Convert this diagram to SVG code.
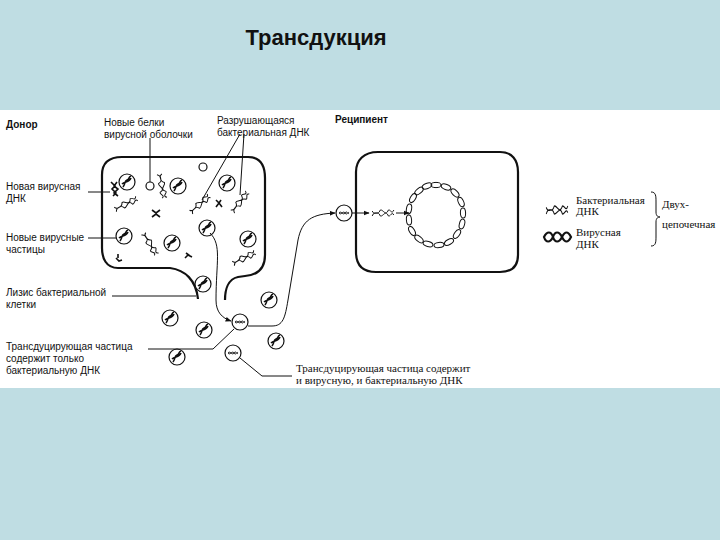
<svg xmlns="http://www.w3.org/2000/svg" width="720" height="540" viewBox="0 0 720 540">
<defs>
<style>
.t{font-family:"Liberation Sans",Arial,sans-serif;font-size:10px;fill:#111}
.s{font-family:"Liberation Serif","Times New Roman",serif;font-size:11px;fill:#111}
.ln{fill:none;stroke:#111;stroke-width:1}
.cell{fill:none;stroke:#111;stroke-width:2.2}
.p{fill:#fff;stroke:#111;stroke-width:1.2}
.dna{fill:none;stroke:#111;stroke-width:1.6}
.bead{fill:none;stroke:#111;stroke-width:1}
</style>
<marker id="ar" viewBox="0 0 10 10" refX="9" refY="5" markerWidth="6" markerHeight="6" orient="auto"><path d="M0,1 L10,5 L0,9 z" fill="#111"/></marker>
<g id="vp"><circle r="8" class="p"/><path d="M-4,5 C-1,1 -3,-1 0,-2 C3,-3 1,-5 4,-6 M-5,2 C-2,-1 2,1 4,-4" class="dna" stroke-width="2"/></g>
<g id="tp"><circle r="8" class="p"/><path d="M-5,0 C-3,-3 -1,3 1,0 C3,-3 4,2 5,0 M-5,0 C-3,3 -1,-3 1,0 C3,3 4,-2 5,0" class="ln" stroke-width="0.9"/></g>
<g id="hx"><path d="M-12,3 C-9,-4 -6,4 -3,-3 C0,-4 3,4 6,-3 C8,-4 10,2 12,-3 M-12,-2 C-9,4 -6,-4 -3,3 C0,4 3,-4 6,3 C8,4 10,-2 12,2" class="ln" stroke-width="1.3"/></g>
<g id="bd"><ellipse rx="5" ry="2.6" class="bead"/></g>
</defs>
<rect width="720" height="540" fill="#bfdde3"/>
<rect x="0" y="110" width="720" height="278" fill="#fff"/>
<text x="316" y="45" text-anchor="middle" style="font-family:'Liberation Sans',Arial,sans-serif;font-size:22px;font-weight:bold" fill="#111">Трансдукция</text>

<g id="donor">
<path class="cell" d="M198,299 C196,280 185,270 170,268 L118,268 C106,268 102,258 102,248 L102,175 C102,162 110,157 122,157 L248,157 C260,157 265,165 265,178 L265,255 C265,268 258,275 245,276 L238,277 C228,279 225,290 225,300"/>
<use href="#vp" transform="translate(127,182)"/>
<use href="#vp" transform="translate(178,186)"/>
<use href="#vp" transform="translate(227,183)"/>
<use href="#vp" transform="translate(124,236)"/>
<use href="#vp" transform="translate(172,243)"/>
<use href="#vp" transform="translate(248,239)"/>
<use href="#vp" transform="translate(207,228)"/>
<circle cx="150" cy="186" r="4" class="p"/>
<circle cx="203" cy="167" r="4" class="p"/>
<use href="#hx" transform="translate(126,204) rotate(-25)"/>
<use href="#hx" transform="translate(162,186) rotate(80)"/>
<use href="#hx" transform="translate(200,204) rotate(-40)"/>
<use href="#hx" transform="translate(240,202) rotate(-50)"/>
<use href="#hx" transform="translate(150,244) rotate(60)"/>
<use href="#hx" transform="translate(244,258) rotate(-25)"/>
<path class="dna" d="M111,182 l4,4 -3,3 4,4 -3,3 M117,182 l-3,4 4,3 -4,4 4,3"/>
<path class="dna" d="M152,210 l4,3 4,-3 M152,217 l4,-3 4,3"/>
<path class="dna" d="M216,200 l3,3 -3,4 M221,200 l-2,3 3,4"/>
<path class="dna" d="M185,258 l3,-3 4,2 M186,253 l4,3"/>
<path class="dna" d="M116,258 l3,3 3,-1 M118,254 l0,4"/>
</g>

<g id="outside">
<use href="#vp" transform="translate(203,284)"/>
<use href="#vp" transform="translate(269,300)"/>
<use href="#vp" transform="translate(170,318)"/>
<use href="#vp" transform="translate(204,330)"/>
<use href="#vp" transform="translate(177,357)"/>
<use href="#vp" transform="translate(276,341)"/>
<use href="#tp" transform="translate(240,322)"/>
<use href="#tp" transform="translate(233,353)"/>
</g>

<g id="recipient">
<path class="cell" d="M378,152 L500,152 C512,152 518,160 518,172 L518,255 C518,266 512,272 500,272 L376,272 C362,272 356,265 356,252 L356,172 C356,160 364,152 378,152 Z"/>
<use href="#tp" transform="translate(344,213)"/>
<g>
<use href="#bd" transform="translate(436,185) rotate(0)"/>
<use href="#bd" transform="translate(446,187) rotate(20)"/>
<use href="#bd" transform="translate(455,193) rotate(45)"/>
<use href="#bd" transform="translate(461,202) rotate(65)"/>
<use href="#bd" transform="translate(463,213) rotate(88)"/>
<use href="#bd" transform="translate(462,224) rotate(105)"/>
<use href="#bd" transform="translate(457,234) rotate(125)"/>
<use href="#bd" transform="translate(449,242) rotate(150)"/>
<use href="#bd" transform="translate(439,245) rotate(175)"/>
<use href="#bd" transform="translate(428,244) rotate(195)"/>
<use href="#bd" transform="translate(419,239) rotate(220)"/>
<use href="#bd" transform="translate(412,231) rotate(240)"/>
<use href="#bd" transform="translate(409,220) rotate(265)"/>
<use href="#bd" transform="translate(409,209) rotate(280)"/>
<use href="#bd" transform="translate(413,198) rotate(300)"/>
<use href="#bd" transform="translate(419,191) rotate(320)"/>
<use href="#bd" transform="translate(427,186) rotate(340)"/>
</g>
<use href="#hx" transform="translate(383,213) scale(0.9,1)"/>
</g>

<g id="connectors">
<path class="ln" stroke-width="1.4" d="M210,233 C222,245 216,262 216,300 C216,312 222,318 231,321" marker-end="url(#ar)"/>
<path class="ln" stroke-width="1.4" d="M248,326 L272,326 C283,326 285,318 288,300 L298,240 C302,220 312,214 335,213" marker-end="url(#ar)"/>
<path class="ln" stroke-width="1.4" d="M352,213 L369,213" marker-end="url(#ar)"/>
<path class="ln" stroke-width="1.4" d="M396,213 L409,213" marker-end="url(#ar)"/>
<path class="ln" d="M88,192 L110,192"/>
<path class="ln" d="M88,238 L116,238"/>
<path class="ln" d="M112,296 L196,296"/>
<path class="ln" d="M148,349 L213,349 L234,329"/>
<path class="ln" d="M240,358 L262,376 L292,376"/>
<path class="ln" d="M150,138 L150,182"/>
<path class="ln" d="M240,134 L202,200 M244,134 L240,195"/>
</g>

<g id="labels">
<text class="t" x="6" y="128" font-weight="bold">Донор</text>
<text class="t" x="104" y="126" font-size="11">Новые белки</text>
<text class="t" x="104" y="138" font-size="11">вирусной оболочки</text>
<text class="t" x="217" y="124">Разрушающаяся</text>
<text class="t" x="217" y="136">бактериальная ДНК</text>
<text class="t" x="335" y="123" font-weight="bold">Реципиент</text>
<text class="t" x="6" y="190">Новая вирусная</text>
<text class="t" x="6" y="202">ДНК</text>
<text class="t" x="6" y="241">Новые вирусные</text>
<text class="t" x="6" y="253">частицы</text>
<text class="t" x="6" y="296">Лизис бактериальной</text>
<text class="t" x="6" y="308">клетки</text>
<text class="t" x="6" y="350">Трансдуцирующая частица</text>
<text class="t" x="6" y="362">содержит только</text>
<text class="t" x="6" y="374">бактериальную ДНК</text>
<text class="s" x="296" y="372">Трансдуцирующая частица содержит</text>
<text class="s" x="296" y="384">и вирусную, и бактериальную ДНК</text>
</g>

<g id="legend">
<use href="#hx" transform="translate(557,210) scale(0.9,1.3)"/>
<path d="M544,237 c3,-6 7,-6 9,0 c2,6 6,6 9,0 c3,-6 6,-6 9,0 c-3,6 -6,6 -9,0 c-3,-6 -7,-6 -9,0 c-3,6 -7,6 -9,0 Z" fill="none" stroke="#111" stroke-width="2.2"/>
<text class="s" x="576" y="204">Бактериальная</text>
<text class="s" x="576" y="215">ДНК</text>
<text class="s" x="576" y="236">Вирусная</text>
<text class="s" x="576" y="248">ДНК</text>
<path class="ln" d="M651,192 c5,0 5,4 5,10 l0,10 c0,4 2,5 4,5 c-2,0 -4,1 -4,5 l0,14 c0,6 0,10 -5,10"/>
<text class="s" x="662" y="208">Двух-</text>
<text class="s" x="662" y="228">цепочечная</text>
</g>
</svg>
